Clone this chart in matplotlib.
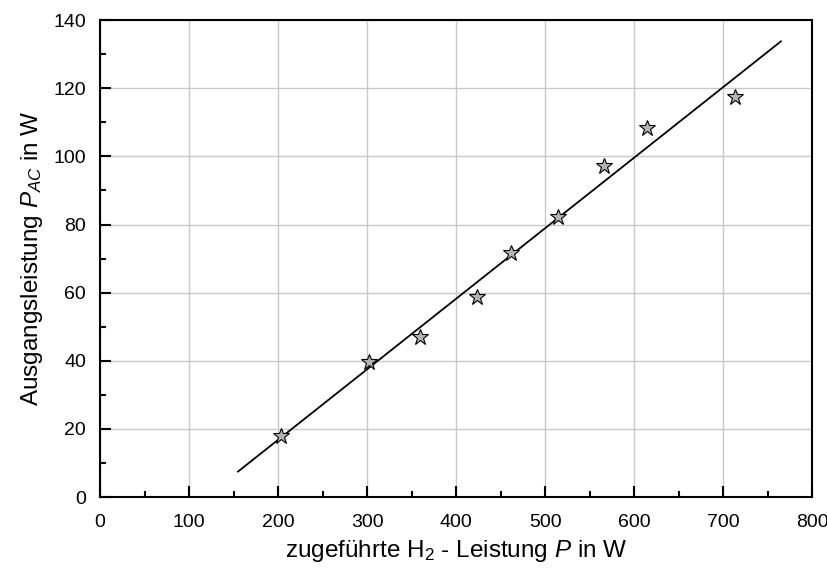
import matplotlib
matplotlib.use('Agg')
import matplotlib.pyplot as plt
from matplotlib.ticker import MultipleLocator
import numpy as np

# measured points
p_h2 = [203, 302, 359, 424, 462, 515, 566, 615, 713]
p_ac = [17.8, 39.6, 46.9, 58.8, 71.6, 82.2, 97.2, 108.3, 117.3]
fit_range = [155, 765]

plt.rcParams['font.family'] = ['Liberation Sans', 'DejaVu Sans']
plt.rcParams['mathtext.fontset'] = 'custom'
plt.rcParams['mathtext.rm'] = 'Liberation Sans'
plt.rcParams['mathtext.it'] = 'Liberation Sans:italic'

fig = plt.figure(figsize=(8.27, 5.76), dpi=100)
ax = fig.add_axes([0.121, 0.137, 0.861, 0.828])

k, d = np.polyfit(p_h2, p_ac, 1)
fx = np.array(fit_range)
ax.plot(fx, k * fx + d, color='black', lw=1.3, zorder=3)
ax.plot(p_h2, p_ac, linestyle='none', marker='*', markersize=12,
        markerfacecolor='#b4b4b4', markeredgecolor='black', markeredgewidth=0.8, zorder=4)

ax.set_xlim(0, 800)
ax.set_ylim(0, 140)
ax.xaxis.set_major_locator(MultipleLocator(100))
ax.xaxis.set_minor_locator(MultipleLocator(50))
ax.yaxis.set_major_locator(MultipleLocator(20))
ax.yaxis.set_minor_locator(MultipleLocator(10))
ax.grid(True, which='major', color='#c8c8c8', lw=1.0, zorder=0)
ax.set_axisbelow(True)

ax.tick_params(which='both', direction='in', top=False, right=False, labelsize=14)
ax.tick_params(which='major', length=8, width=1.5)
ax.tick_params(which='minor', length=4, width=1.5)
ax.tick_params(axis='x', which='major', pad=12)
ax.tick_params(axis='y', which='major', pad=10)
for s in ax.spines.values():
    s.set_linewidth(1.5)

ax.set_xlabel('zugeführte H$_2$ - Leistung $P$ in W', fontsize=17.5, labelpad=5)
ax.set_ylabel('Ausgangsleistung $P_{AC}$ in W', fontsize=17.5, labelpad=6)

fig.savefig('out.png', dpi=100)
